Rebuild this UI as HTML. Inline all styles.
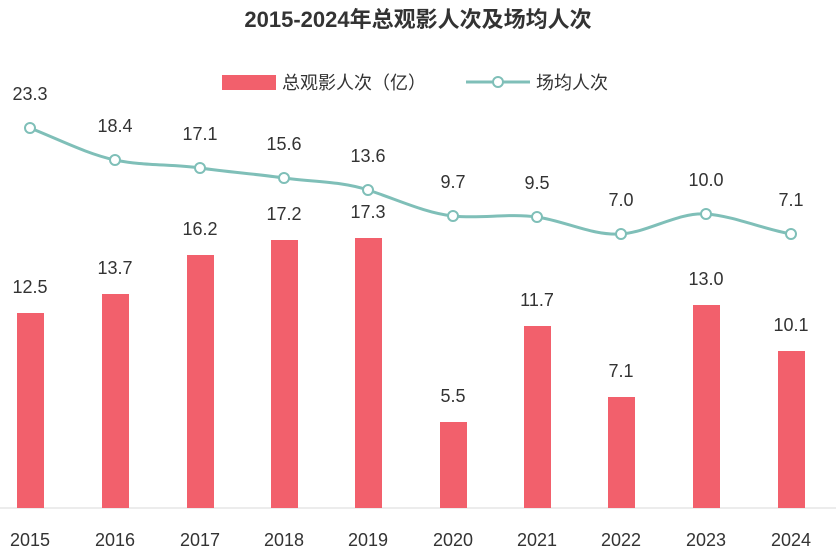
<!DOCTYPE html>
<html><head><meta charset="utf-8"><style>
body{margin:0;background:#fff;}
svg text{font-family:"Liberation Sans","Noto Sans CJK SC",sans-serif;fill:#333;}
</style></head><body>
<svg width="836" height="555" viewBox="0 0 836 555" xmlns="http://www.w3.org/2000/svg">
<text x="418" y="27" text-anchor="middle" font-size="22" font-weight="bold" fill="#444">2015-2024年总观影人次及场均人次</text>
<rect x="222" y="75" width="54" height="15" fill="#f2606c"/>
<text x="282" y="89" font-size="18">总观影人次（亿）</text>
<line x1="466" y1="82" x2="530" y2="82" stroke="#7fbfb8" stroke-width="3"/>
<circle cx="498" cy="82" r="5" fill="#fff" stroke="#7fbfb8" stroke-width="2"/>
<text x="536" y="89" font-size="18">场均人次</text>
<line x1="0" y1="508" x2="836" y2="508" stroke="#d9d9d9" stroke-width="1"/>
<g fill="#f2606c">
<rect x="17" y="313" width="27" height="195"/>
<rect x="102" y="294" width="27" height="214"/>
<rect x="187" y="255" width="27" height="253"/>
<rect x="271" y="240" width="27" height="268"/>
<rect x="355" y="238" width="27" height="270"/>
<rect x="440" y="422" width="27" height="86"/>
<rect x="524" y="326" width="27" height="182"/>
<rect x="608" y="397" width="27" height="111"/>
<rect x="693" y="305" width="27" height="203"/>
<rect x="778" y="351" width="27" height="157"/>
</g>
<g font-size="18" text-anchor="middle">
<text x="30" y="293">12.5</text>
<text x="115" y="274">13.7</text>
<text x="200" y="235">16.2</text>
<text x="284" y="220">17.2</text>
<text x="368" y="218">17.3</text>
<text x="453" y="402">5.5</text>
<text x="537" y="306">11.7</text>
<text x="621" y="377">7.1</text>
<text x="706" y="285">13.0</text>
<text x="791" y="331">10.1</text>
<text x="30" y="100">23.3</text>
<text x="115" y="132">18.4</text>
<text x="200" y="140">17.1</text>
<text x="284" y="150">15.6</text>
<text x="368" y="162">13.6</text>
<text x="453" y="188">9.7</text>
<text x="537" y="189">9.5</text>
<text x="621" y="206">7.0</text>
<text x="706" y="186">10.0</text>
<text x="791" y="206">7.1</text>
</g>
<path d="M30,128 C58,139 87,154 115,160 C143,166 172,164 200,168 C228,172 256,174 284,178 C312,182 340,181 368,190 C396,199 425,213 453,216 C481,219 509,213 537,217 C565,221 593,236 621,234 C649,232 678,212 706,214 C734,216 763,229 791,234" fill="none" stroke="#7fbfb8" stroke-width="3"/>
<g fill="#fff" stroke="#7fbfb8" stroke-width="2">
<circle cx="30" cy="128" r="5"/><circle cx="115" cy="160" r="5"/><circle cx="200" cy="168" r="5"/><circle cx="284" cy="178" r="5"/><circle cx="368" cy="190" r="5"/><circle cx="453" cy="216" r="5"/><circle cx="537" cy="217" r="5"/><circle cx="621" cy="234" r="5"/><circle cx="706" cy="214" r="5"/><circle cx="791" cy="234" r="5"/>
</g>
<g font-size="18" text-anchor="middle">
<text x="30" y="546">2015</text><text x="115" y="546">2016</text><text x="200" y="546">2017</text><text x="284" y="546">2018</text><text x="368" y="546">2019</text><text x="453" y="546">2020</text><text x="537" y="546">2021</text><text x="621" y="546">2022</text><text x="706" y="546">2023</text><text x="791" y="546">2024</text>
</g>
</svg>
</body></html>
